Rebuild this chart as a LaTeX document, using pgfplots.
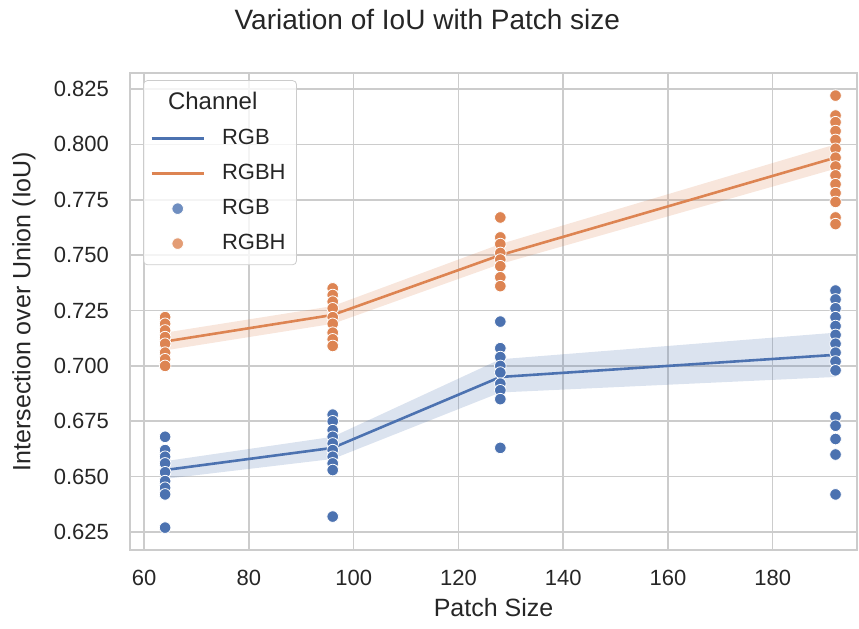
\documentclass[border=0pt]{standalone}
\usepackage{pgfplots}
\pgfplotsset{compat=1.18}
\usepackage{fontspec}
\setmainfont{Liberation Sans}
\definecolor{sbblue}{HTML}{4C72B0}
\definecolor{sborange}{HTML}{DD8452}
\definecolor{gridc}{HTML}{CCCCCC}
\definecolor{txt}{HTML}{262626}
\begin{document}
\begin{tikzpicture}
\begin{axis}[
  name=ax,
  scale only axis,
  width=363.5pt, height=238.5pt,
  xmin=57.3, xmax=196.1,
  ymin=0.6169, ymax=0.8322,
  xtick={60,80,...,180},
  ytick={0.625,0.650,...,0.826},
  /pgf/number format/assume math mode=true,
  yticklabel style={/pgf/number format/fixed, /pgf/number format/fixed zerofill, /pgf/number format/precision=3},
  x tick label style={yshift=-6.5pt},
  y tick label style={xshift=-7pt},
  scaled y ticks=false,
  tick label style={font=\fontsize{11}{13}\selectfont, text=txt},
  major tick length=0pt,
  grid=major,
  grid style={gridc, line width=0.8pt},
  axis line style={gridc, line width=0.8pt},
  xlabel={Patch Size},
  ylabel={Intersection over Union (IoU)},
  xlabel style={at={(axis description cs:0.5,-0.1216)}, anchor=center, font=\fontsize{12.5}{14}\selectfont, text=txt},
  ylabel style={at={(axis description cs:-0.1458,0.5)}, anchor=center, font=\fontsize{12.5}{14}\selectfont, text=txt},
  title={Variation of IoU with Patch size},
  title style={at={(axis description cs:0.409,1.086)}, anchor=center, font=\fontsize{14}{16}\selectfont, text=txt},
  legend image code/.code={\draw[mark repeat=2,mark phase=2,#1] plot coordinates {(0pt,0pt)(13pt,0pt)(26pt,0pt)};},
  legend style={at={(0.0179,0.985)}, anchor=north west, draw=gridc, fill=white, fill opacity=0.8, text opacity=1,
    font=\fontsize{11}{13}\selectfont, text=txt, rounded corners=2pt, row sep=4.3pt, column sep=6.5pt,
    inner xsep=3.5pt, inner ysep=4pt},
  legend cell align=left,
  clip=false,
]
\addlegendimage{empty legend}
\addlegendentry{\hspace{-27pt}\fontsize{12}{14}\selectfont Channel}
% bands
\addplot[fill=sbblue, fill opacity=0.2, draw=none, forget plot] coordinates {(64,0.649)(96,0.658)(128,0.688)(192,0.695)(192,0.715)(128,0.703)(96,0.668)(64,0.657)} -- cycle;
\addplot[fill=sborange, fill opacity=0.2, draw=none, forget plot] coordinates {(64,0.707)(96,0.719)(128,0.746)(192,0.789)(192,0.800)(128,0.755)(96,0.727)(64,0.715)} -- cycle;
% mean lines
\addplot[sbblue, line width=1.3pt, no marks] coordinates {(64,0.653)(96,0.663)(128,0.695)(192,0.705)};
\addlegendentry{RGB}
\addplot[sborange, line width=1.3pt, no marks] coordinates {(64,0.711)(96,0.723)(128,0.750)(192,0.794)};
\addlegendentry{RGBH\hspace{6pt}}
% scatter
\addplot[only marks, mark=*, mark size=2.9pt, mark options={fill=sbblue, draw=white, line width=0.4pt}] coordinates {
(64,0.668)(64,0.662)(64,0.659)(64,0.656)(64,0.652)(64,0.648)(64,0.645)(64,0.642)(64,0.627)
(96,0.678)(96,0.675)(96,0.671)(96,0.668)(96,0.665)(96,0.662)(96,0.659)(96,0.656)(96,0.653)(96,0.632)
(128,0.720)(128,0.708)(128,0.704)(128,0.700)(128,0.697)(128,0.692)(128,0.689)(128,0.685)(128,0.663)
(192,0.734)(192,0.730)(192,0.726)(192,0.722)(192,0.718)(192,0.714)(192,0.710)(192,0.706)(192,0.702)(192,0.698)(192,0.677)(192,0.673)(192,0.667)(192,0.660)(192,0.642)
};
\addlegendentry{RGB}
\addplot[only marks, mark=*, mark size=2.9pt, mark options={fill=sborange, draw=white, line width=0.4pt}] coordinates {
(64,0.722)(64,0.719)(64,0.716)(64,0.713)(64,0.710)(64,0.706)(64,0.703)(64,0.700)
(96,0.735)(96,0.732)(96,0.729)(96,0.726)(96,0.722)(96,0.719)(96,0.715)(96,0.712)(96,0.709)
(128,0.767)(128,0.758)(128,0.755)(128,0.751)(128,0.748)(128,0.745)(128,0.740)(128,0.736)
(192,0.822)(192,0.813)(192,0.810)(192,0.806)(192,0.802)(192,0.798)(192,0.794)(192,0.790)(192,0.786)(192,0.782)(192,0.778)(192,0.774)(192,0.767)(192,0.764)
};
\addlegendentry{RGBH}
\end{axis}
\pgfresetboundingbox
\path ([xshift=-65pt,yshift=-39pt]ax.south west) rectangle ([xshift=1pt,yshift=36.5pt]ax.north east);
\end{tikzpicture}
\end{document}
